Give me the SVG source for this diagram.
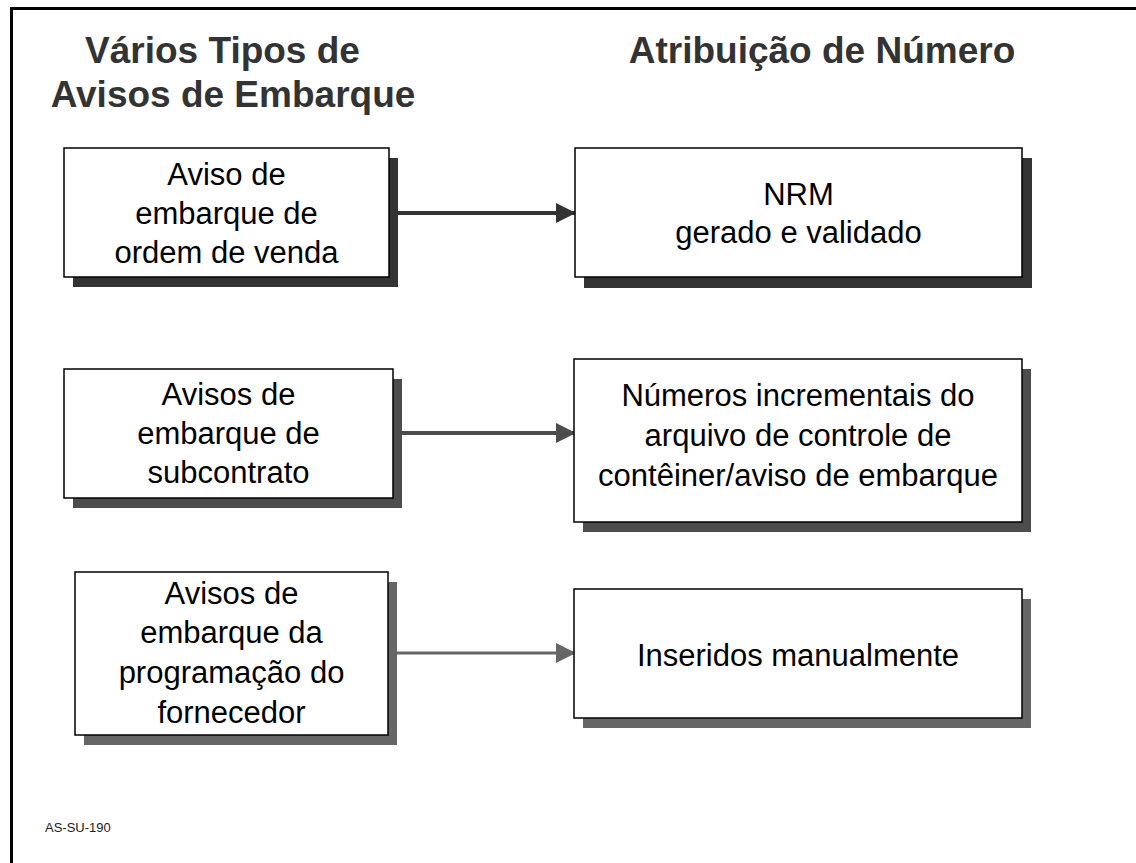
<svg xmlns="http://www.w3.org/2000/svg" width="1136" height="863" viewBox="0 0 1136 863">
<style>
.title{font-family:"Liberation Sans",Arial,sans-serif;font-weight:bold;font-size:37px;fill:#333333;text-anchor:middle}
.lbl{font-family:"Liberation Sans",Arial,sans-serif;font-size:31px;fill:#000000;text-anchor:middle}
.box{fill:#ffffff;stroke:#000000;stroke-width:1.5}
.foot{font-family:"Liberation Sans",Arial,sans-serif;font-size:13px;fill:#222222}
</style>
<defs>
<marker id="a1" markerUnits="userSpaceOnUse" markerWidth="20" markerHeight="20" refX="20" refY="10" orient="auto"><path d="M0,0 L20,10 L0,20 Z" fill="#333333"/></marker>
<marker id="a2" markerUnits="userSpaceOnUse" markerWidth="20" markerHeight="20" refX="20" refY="10" orient="auto"><path d="M0,0 L20,10 L0,20 Z" fill="#4d4d4d"/></marker>
<marker id="a3" markerUnits="userSpaceOnUse" markerWidth="20" markerHeight="20" refX="20" refY="10" orient="auto"><path d="M0,0 L20,10 L0,20 Z" fill="#666666"/></marker>
</defs>
<rect width="1136" height="863" fill="#ffffff"/>
<path d="M11.5,863 V8.5 H1136" fill="none" stroke="#000000" stroke-width="3"/>
<g id="titles">
<text class="title" x="222.5" y="63">Vários Tipos de</text>
<text class="title" x="233" y="107">Avisos de Embarque</text>
<text class="title" x="822" y="63">Atribuição de Número</text>
</g>
<g id="connectors">
<line x1="389" y1="213" x2="576" y2="213" stroke="#333333" stroke-width="4" marker-end="url(#a1)"/>
<line x1="393" y1="433" x2="576" y2="433" stroke="#4d4d4d" stroke-width="4" marker-end="url(#a2)"/>
<line x1="388" y1="653" x2="576" y2="653" stroke="#666666" stroke-width="3" marker-end="url(#a3)"/>
</g>
<g id="n1">
<rect x="73" y="158" width="325" height="129" fill="#333333"/>
<rect class="box" x="64" y="148" width="325" height="129"/>
<text class="lbl" x="226.5" y="185">Aviso de</text>
<text class="lbl" x="226.5" y="224">embarque de</text>
<text class="lbl" x="226.5" y="263">ordem de venda</text>
</g>
<g id="n2">
<rect x="584" y="158" width="448" height="130" fill="#333333"/>
<rect class="box" x="575" y="148" width="447" height="129"/>
<text class="lbl" x="798.5" y="205">NRM</text>
<text class="lbl" x="798.5" y="243">gerado e validado</text>
</g>
<g id="n3">
<rect x="73" y="379" width="329" height="129" fill="#4d4d4d"/>
<rect class="box" x="64" y="369" width="329" height="129"/>
<text class="lbl" x="228.5" y="405">Avisos de</text>
<text class="lbl" x="228.5" y="444">embarque de</text>
<text class="lbl" x="228.5" y="483">subcontrato</text>
</g>
<g id="n4">
<rect x="583" y="369" width="448" height="163" fill="#4d4d4d"/>
<rect class="box" x="574" y="359" width="448" height="163"/>
<text class="lbl" x="798" y="406">Números incrementais do</text>
<text class="lbl" x="798" y="446">arquivo de controle de</text>
<text class="lbl" x="798" y="486">contêiner/aviso de embarque</text>
</g>
<g id="n5">
<rect x="84" y="582" width="313" height="163" fill="#666666"/>
<rect class="box" x="75" y="572" width="313" height="163"/>
<text class="lbl" x="231.5" y="604">Avisos de</text>
<text class="lbl" x="231.5" y="643">embarque da</text>
<text class="lbl" x="231.5" y="683">programação do</text>
<text class="lbl" x="231.5" y="723">fornecedor</text>
</g>
<g id="n6">
<rect x="583" y="599" width="448" height="129" fill="#666666"/>
<rect class="box" x="574" y="589" width="448" height="129"/>
<text class="lbl" x="798" y="666">Inseridos manualmente</text>
</g>
<text class="foot" x="45" y="832">AS-SU-190</text>
</svg>
